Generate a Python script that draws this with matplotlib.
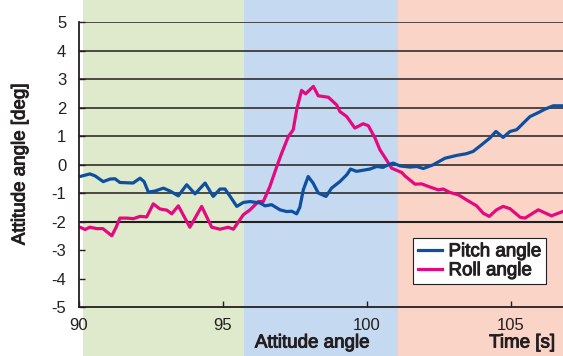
import matplotlib
matplotlib.use("Agg")
import matplotlib.pyplot as plt
import matplotlib.patheffects as pe
from matplotlib.lines import Line2D

plt.rcParams['font.family'] = ['Liberation Sans', 'DejaVu Sans']
plt.rcParams['axes.unicode_minus'] = False

# Pitch angle trace (time [s], angle [deg])
pitch_t = [90.05, 90.39, 90.57, 90.85, 91.09, 91.26, 91.43, 91.89, 92.13, 92.27,
           92.42, 92.65, 92.94, 93.17, 93.46, 93.75, 94.04, 94.39, 94.67, 94.91,
           95.08, 95.26, 95.49, 95.72, 95.95, 96.30, 96.47, 96.70, 96.99, 97.22,
           97.40, 97.57, 97.68, 97.80, 97.97, 98.14, 98.32, 98.59, 98.78, 99.07,
           99.31, 99.44, 99.65, 99.88, 100.11, 100.35, 100.57, 100.75, 100.92, 101.16,
           101.50, 101.74, 101.97, 102.31, 102.72, 103.13, 103.47, 103.70, 103.99, 104.28,
           104.49, 104.74, 104.98, 105.21, 105.67, 105.96, 106.19, 106.48, 106.81]
pitch_deg = [-0.42, -0.33, -0.40, -0.60, -0.51, -0.50, -0.63, -0.65, -0.48, -0.60,
             -0.97, -0.93, -0.83, -0.93, -1.10, -0.71, -1.03, -0.65, -1.12, -0.86,
             -0.86, -1.12, -1.47, -1.33, -1.30, -1.35, -1.45, -1.41, -1.59, -1.65,
             -1.64, -1.73, -1.50, -0.89, -0.42, -0.65, -1.00, -1.12, -0.83, -0.60,
             -0.36, -0.16, -0.24, -0.20, -0.16, -0.07, -0.10, -0.01, 0.05, -0.05,
             -0.09, -0.07, -0.14, -0.01, 0.22, 0.32, 0.38, 0.46, 0.69, 0.93,
             1.16, 0.95, 1.16, 1.22, 1.68, 1.82, 1.94, 2.06, 2.06]

# Roll angle trace (time [s], angle [deg])
roll_t = [90.05, 90.22, 90.39, 90.63, 90.84, 91.15, 91.30, 91.43, 91.67, 91.90,
          92.13, 92.36, 92.59, 92.82, 93.06, 93.23, 93.46, 93.86, 94.27, 94.62,
          94.91, 95.19, 95.37, 95.72, 95.95, 96.24, 96.41, 96.64, 96.88, 97.05,
          97.28, 97.45, 97.57, 97.74, 97.88, 98.15, 98.32, 98.67, 98.96, 99.07,
          99.31, 99.59, 99.88, 100.06, 100.29, 100.46, 100.69, 100.87, 101.22, 101.33,
          101.68, 101.91, 102.20, 102.49, 102.66, 102.89, 103.18, 103.47, 103.82, 104.05,
          104.26, 104.51, 104.74, 104.98, 105.33, 105.50, 105.96, 106.42, 106.81]
roll_deg = [-2.20, -2.28, -2.20, -2.25, -2.25, -2.50, -2.20, -1.88, -1.88, -1.90,
            -1.82, -1.84, -1.38, -1.56, -1.60, -1.73, -1.45, -2.20, -1.47, -2.20,
            -2.27, -2.20, -2.27, -1.76, -1.59, -1.30, -1.30, -0.77, -0.07, 0.40,
            0.98, 1.22, 1.92, 2.60, 2.48, 2.74, 2.41, 2.36, 2.09, 1.86,
            1.68, 1.28, 1.43, 1.36, 0.93, 0.52, 0.16, -0.13, -0.28, -0.40,
            -0.69, -0.68, -0.79, -0.89, -0.86, -0.98, -1.06, -1.24, -1.45, -1.71,
            -1.82, -1.59, -1.47, -1.55, -1.85, -1.88, -1.59, -1.80, -1.65]

# Flight phases shaded behind the traces
phase_edges = [90.15, 95.74, 101.09, 107.5]
phase_colors = ['#deeacb', '#c5d9f0', '#fbd4c8']
phase_labels = ['', 'Attitude angle', 'Time [s]']

x_ticks = [90, 95, 100, 105]
y_ticks = [-5, -4, -3, -2, -1, 0, 1, 2, 3, 4, 5]
grid_levels = [5, 4, 3, 2, 1, 0, -1, -2]

ink = '#231f20'
# slightly heavier than regular weight for the labels
medium = [pe.withStroke(linewidth=0.7, foreground=ink)]

fig = plt.figure(figsize=(5.63, 3.56), dpi=100)
ax_l, ax_b, ax_w, ax_h = 0.1398, 0.1376, 0.8602, 0.8006
ax = fig.add_axes([ax_l, ax_b, ax_w, ax_h])
ax.set_xlim(90, 106.82)
ax.set_ylim(-5, 5)

# Bands run the full height of the figure
y_lo = -ax_b / ax_h
y_hi = (1 - ax_b) / ax_h
for i, c in enumerate(phase_colors):
    ax.axvspan(phase_edges[i], phase_edges[i + 1], ymin=y_lo, ymax=y_hi,
               color=c, lw=0, zorder=0, clip_on=False)

for lv in grid_levels:
    ax.axhline(lv, color=ink, lw=1.5 if lv == -2 else 1.1, zorder=1)

pitch_color = '#0d4fa0'
roll_color = '#e5097f'
ax.plot(roll_t, roll_deg, color=roll_color, lw=2.3, zorder=3,
        solid_joinstyle='round', solid_capstyle='round')
ax.plot(pitch_t, pitch_deg, color=pitch_color, lw=2.3, zorder=4,
        solid_joinstyle='round', solid_capstyle='round')

for side in ['top', 'right']:
    ax.spines[side].set_visible(False)
for side in ['left', 'bottom']:
    ax.spines[side].set_color(ink)
    ax.spines[side].set_linewidth(1.3)
    ax.spines[side].set_zorder(5)
ax.patch.set_visible(False)

ax.set_xticks(x_ticks)
ax.set_yticks(y_ticks)
ax.tick_params(axis='both', direction='in', length=4, width=1, color=ink,
               labelsize=12, labelcolor=ink)
ax.tick_params(axis='y', pad=9)
ax.tick_params(axis='x', pad=8)

fig.text(20 / 563, 1 - 164.5 / 356, 'Attitude angle [deg]', rotation=90,
         fontsize=13.5, color=ink, ha='center', va='center', path_effects=medium)

ax.text(312, 13, phase_labels[1], transform=None, fontsize=13.5,
        color=ink, ha='center', va='center', path_effects=medium)
ax.text(522, 13, phase_labels[2], transform=None, fontsize=13.5,
        color=ink, ha='center', va='center', path_effects=medium)

handles = [Line2D([], [], color=pitch_color, lw=2.3),
           Line2D([], [], color=roll_color, lw=2.3)]
leg = ax.legend(handles, ['Pitch angle', 'Roll angle'], loc='lower left',
                bbox_to_anchor=(0.69, 0.081), borderaxespad=0, fancybox=False,
                framealpha=1, edgecolor=ink, handlelength=1.3,
                handletextpad=0.35, borderpad=0.25, labelspacing=0.1,
                prop={'size': 13.5})
leg.get_frame().set_linewidth(0.8)
leg.set_zorder(6)
for t in leg.get_texts():
    t.set_color(ink)
    t.set_path_effects(medium)

fig.savefig('out.png', dpi=100)
